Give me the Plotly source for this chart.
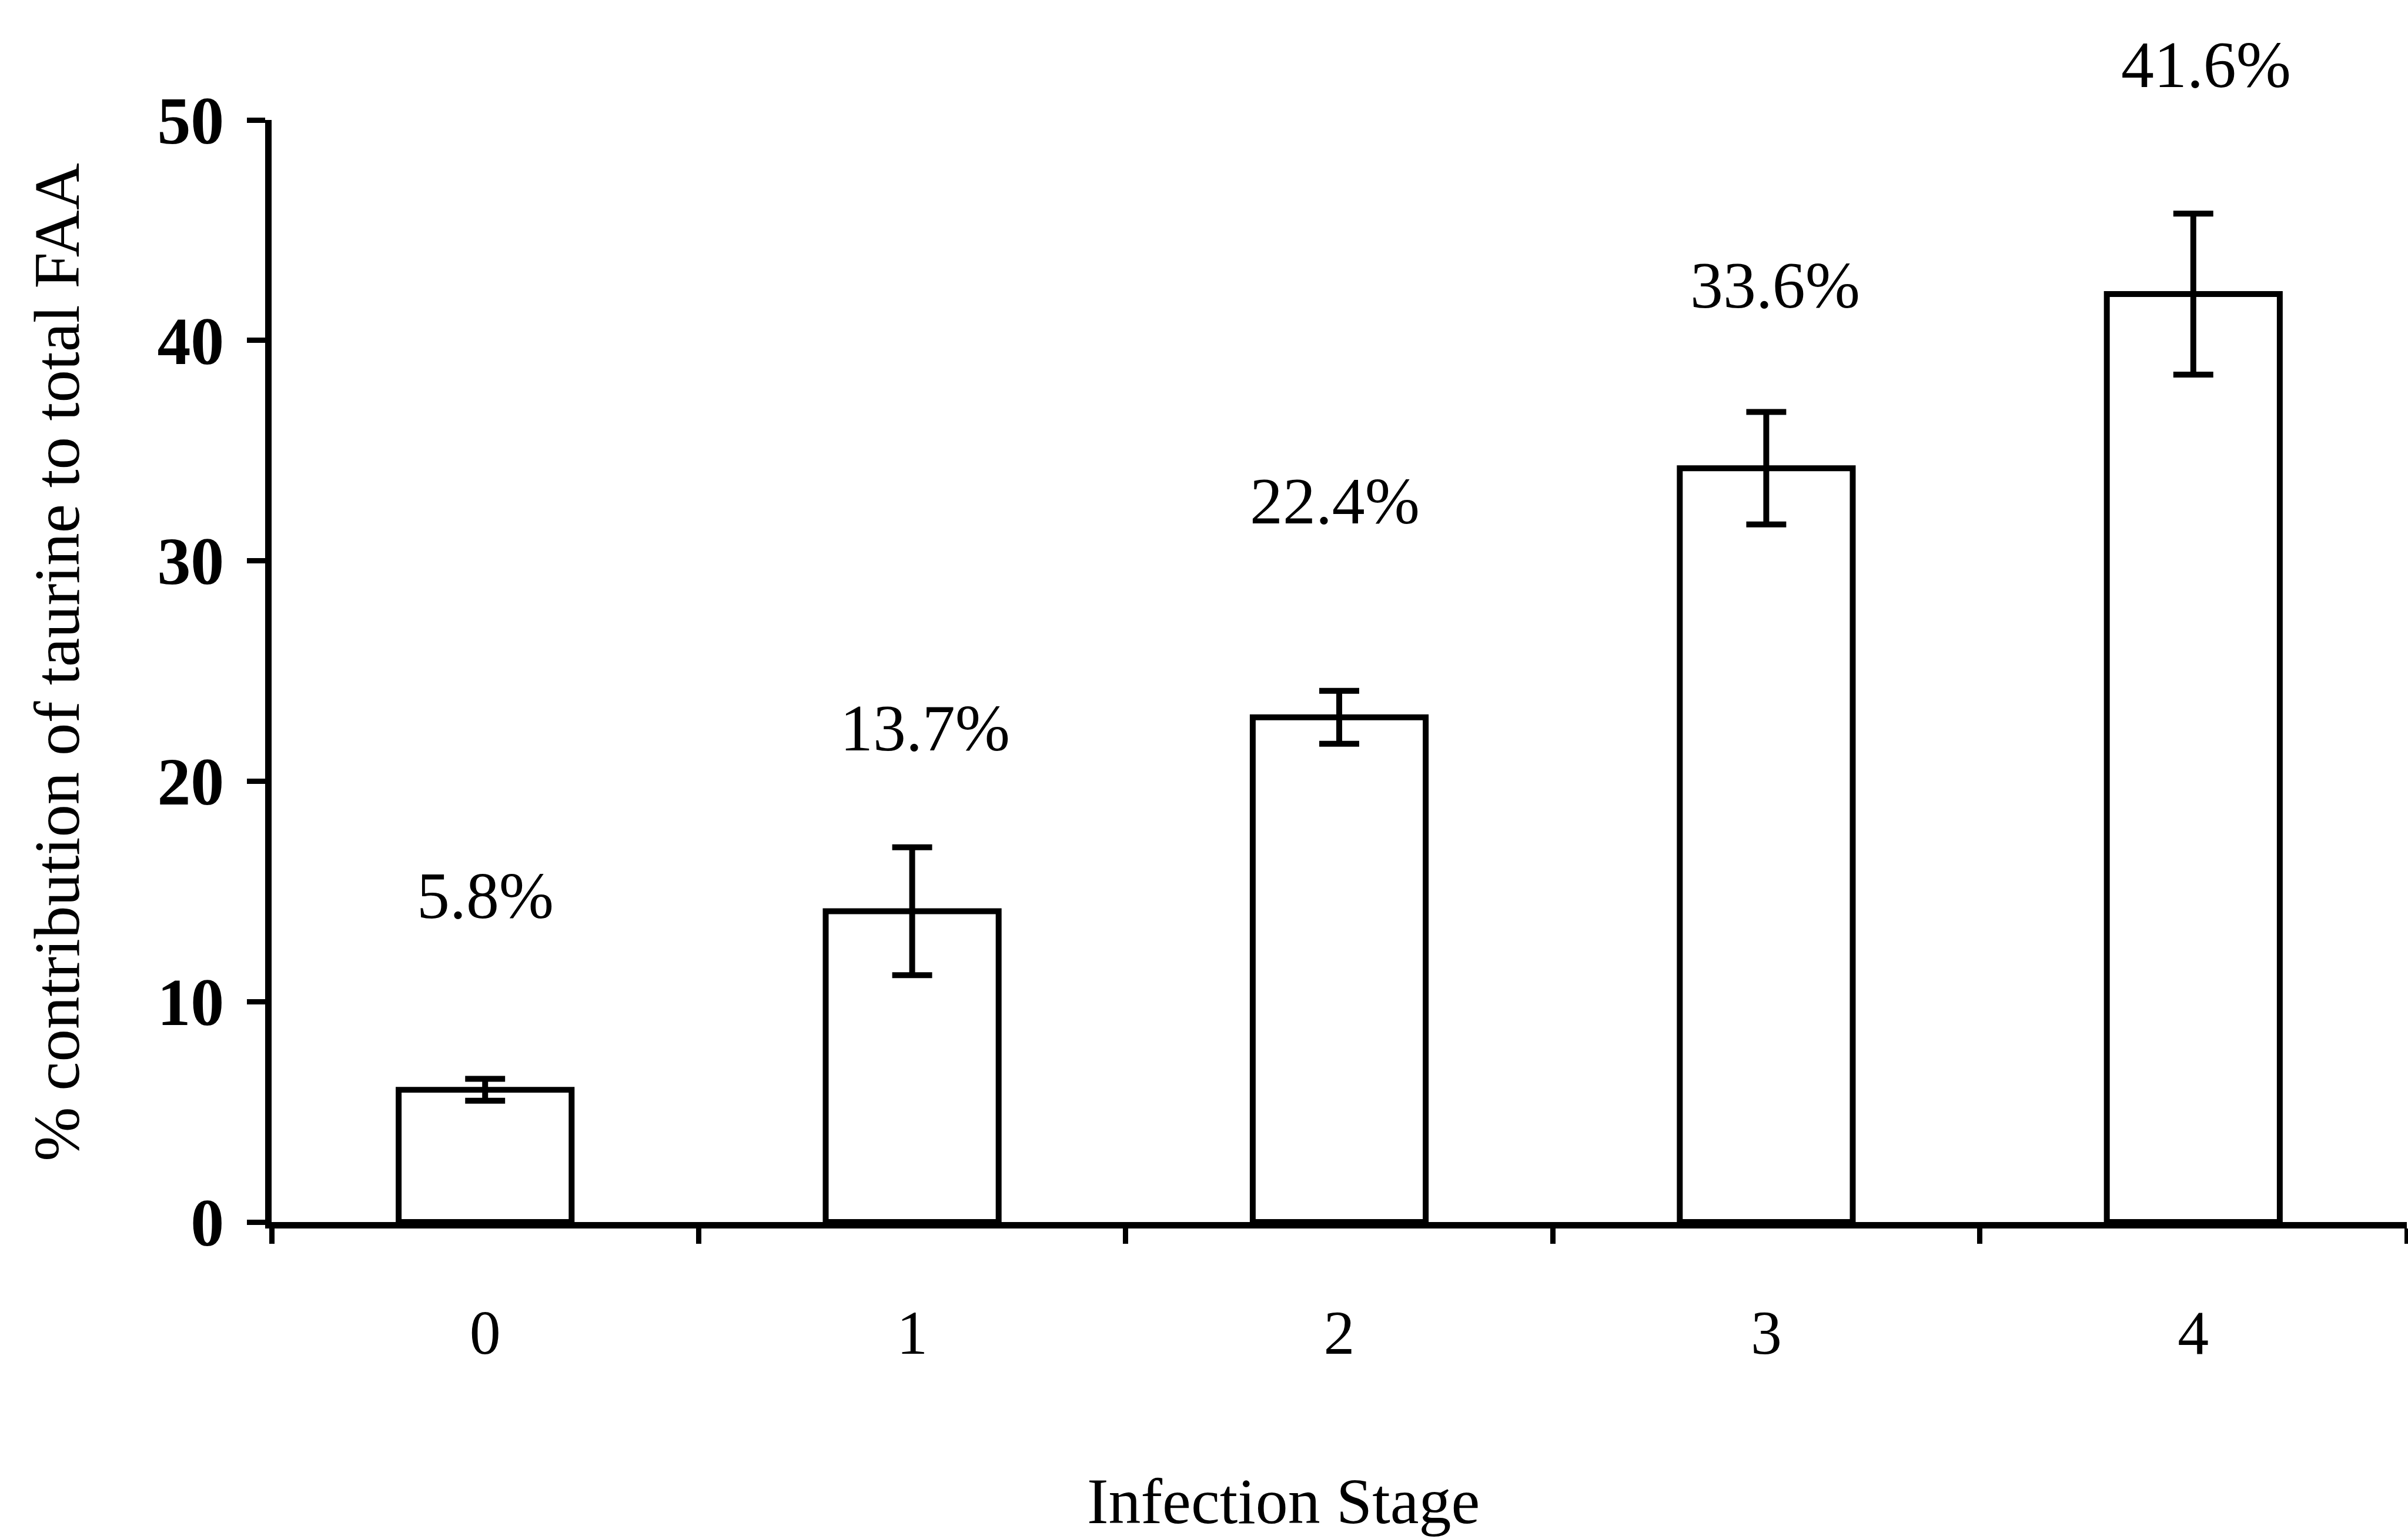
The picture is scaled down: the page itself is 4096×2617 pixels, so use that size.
import plotly.graph_objects as go

# Data
stages = ["0", "1", "2", "3", "4"]
means = [6.0, 14.1, 22.9, 34.2, 42.1]
errors = [0.5, 2.9, 1.2, 2.55, 3.65]
pct_labels = ["5.8%", "13.7%", "22.4%", "33.6%", "41.6%"]
y_ticks = [0, 10, 20, 30, 40, 50]
Y_MAX = 50

# Layout-only: where the percentage labels sit (in y-axis units) and pixel nudges
label_y = [14.8, 22.4, 32.7, 42.5, 52.5]
label_xshift = [0, 22, -8, 15, 22]

S = 0.999
FONT = "Liberation Serif"

fig = go.Figure()
fig.add_trace(go.Bar(
    x=stages, y=means,
    width=0.405,
    marker=dict(color="white", line=dict(color="black", width=10 * S)),
    error_y=dict(type="data", array=errors, visible=True, color="black",
                 thickness=10 * S, width=34 * S),
    showlegend=False,
))

annotations = []
for s, lab, ly, dx in zip(stages, pct_labels, label_y, label_xshift):
    annotations.append(dict(x=s, y=ly / Y_MAX, xref="x", yref="y domain", text=lab, showarrow=False,
                            xshift=dx * S, xanchor="center", yanchor="middle",
                            font=dict(family=FONT, size=112 * S, color="black")))

W, H = 4096, 2617
l = round(462.6 * S)
r = W - round(4098 * S)
t = round(203.9 * S)
b = H - round(2080 * S)
pw, ph = W - l - r, H - t - b


def to_paper(px, py):
    return (px * S - l) / pw, 1 - (py * S - t) / ph


tx, ty = to_paper(2185, 2556)
annotations.append(dict(x=tx, y=ty, xref="paper", yref="paper", text="Infection Stage",
                        showarrow=False, xanchor="center", yanchor="middle",
                        font=dict(family=FONT, size=110 * S, color="black")))
tx, ty = to_paper(97, 1127)
annotations.append(dict(x=tx, y=ty, xref="paper", yref="paper",
                        text="% contribution of taurine to total FAA", textangle=-90,
                        showarrow=False, xanchor="center", yanchor="middle",
                        font=dict(family=FONT, size=111 * S, color="black")))

fig.update_layout(
    width=W, height=H,
    margin=dict(l=l, r=r, t=t, b=b, pad=0),
    paper_bgcolor="white", plot_bgcolor="white",
    annotations=annotations,
    font=dict(family=FONT, color="black"),
)
fig.update_xaxes(
    type="category", range=[-0.5, 4.5],
    showline=True, linecolor="black", linewidth=11 * S,
    ticks="outside", tickson="boundaries", ticklen=26 * S, tickwidth=9 * S, tickcolor="black",
    tickfont=dict(family=FONT, size=106 * S, color="black"),
    ticklabelstandoff=86,
    showgrid=False, zeroline=False,
)
fig.update_yaxes(
    range=[0, Y_MAX], tickvals=y_ticks,
    showline=True, linecolor="black", linewidth=11 * S,
    ticks="outside", ticklen=31 * S, tickwidth=9 * S, tickcolor="black",
    tickfont=dict(family=FONT, size=114 * S, color="black", weight="bold"),
    ticklabelstandoff=16,
    showgrid=False, zeroline=False,
)

fig.write_html("out.html")
